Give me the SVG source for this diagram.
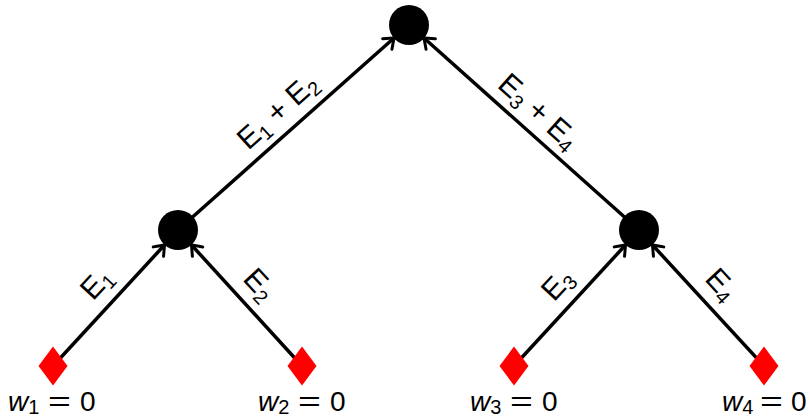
<svg xmlns="http://www.w3.org/2000/svg" width="810" height="417" viewBox="0 0 810 417">
<style>
.e{stroke:#000;stroke-width:3.5;fill:none;marker-end:url(#arr)}
.n{fill:#000}
.d{fill:#ff0000}
text{font-family:"Liberation Sans","DejaVu Sans",sans-serif;font-size:30px;fill:#000}
.w{font-size:28px}
.s{font-size:20px}
.i{font-style:italic}
</style>
<defs>
<marker id="arr" viewBox="-12 -9 14 18" markerWidth="14" markerHeight="18" refX="0" refY="0" orient="auto" markerUnits="userSpaceOnUse">
<path d="M-9,-7 Q-2.5,-2 0,0 Q-2.5,2 -9,7" fill="none" stroke="#000" stroke-width="3" stroke-linecap="round"/>
</marker>
</defs>
<rect width="810" height="417" fill="#fff"/>
<g id="connectors">
<line class="e" x1="53" y1="366" x2="164.5" y2="245"/>
<line class="e" x1="302" y1="366" x2="191.5" y2="245"/>
<line class="e" x1="514" y1="366" x2="625.5" y2="245"/>
<line class="e" x1="764" y1="366" x2="652.5" y2="245"/>
<line class="e" x1="178" y1="230" x2="394" y2="38"/>
<line class="e" x1="639" y1="230" x2="424" y2="38"/>
<text transform="translate(97,284) rotate(-47)" text-anchor="middle" y="9">E<tspan class="s" dy="5">1</tspan></text>
<text transform="translate(259,285) rotate(47)" text-anchor="middle" y="9">E<tspan class="s" dy="5">2</tspan></text>
<text transform="translate(558,285) rotate(-47)" text-anchor="middle" y="9">E<tspan class="s" dy="5">3</tspan></text>
<text transform="translate(721,285) rotate(47)" text-anchor="middle" y="9">E<tspan class="s" dy="5">4</tspan></text>
<text transform="translate(278,112) rotate(-42)" text-anchor="middle" y="9">E<tspan class="s" dy="5">1</tspan><tspan dy="-5"> + E</tspan><tspan class="s" dy="5">2</tspan></text>
<text transform="translate(538,112) rotate(42)" text-anchor="middle" y="9">E<tspan class="s" dy="5">3</tspan><tspan dy="-5"> + E</tspan><tspan class="s" dy="5">4</tspan></text>
</g>
<g id="root"><circle class="n" cx="409" cy="25" r="20"/></g>
<g id="mid1"><circle class="n" cx="178" cy="230" r="20"/></g>
<g id="mid2"><circle class="n" cx="639" cy="230" r="20"/></g>
<g id="leaf1"><polygon class="d" points="53,346.5 67.5,366 53,385.5 38.5,366"/><text class="w" x="8" y="411"><tspan class="i">w</tspan><tspan class="s" dy="3">1</tspan></text><text class="w" transform="translate(48,411) scale(1.4,1)">=</text><text class="w" x="80" y="411">0</text></g>
<g id="leaf2"><polygon class="d" points="302,346.5 316.5,366 302,385.5 287.5,366"/><text class="w" x="258" y="411"><tspan class="i">w</tspan><tspan class="s" dy="3">2</tspan></text><text class="w" transform="translate(298,411) scale(1.4,1)">=</text><text class="w" x="330" y="411">0</text></g>
<g id="leaf3"><polygon class="d" points="514,346.5 528.5,366 514,385.5 499.5,366"/><text class="w" x="470" y="411"><tspan class="i">w</tspan><tspan class="s" dy="3">3</tspan></text><text class="w" transform="translate(510,411) scale(1.4,1)">=</text><text class="w" x="542" y="411">0</text></g>
<g id="leaf4"><polygon class="d" points="764,346.5 778.5,366 764,385.5 749.5,366"/><text class="w" x="722" y="411"><tspan class="i">w</tspan><tspan class="s" dy="3">4</tspan></text><text class="w" transform="translate(760,411) scale(1.4,1)">=</text><text class="w" x="791" y="411">0</text></g>
</svg>
